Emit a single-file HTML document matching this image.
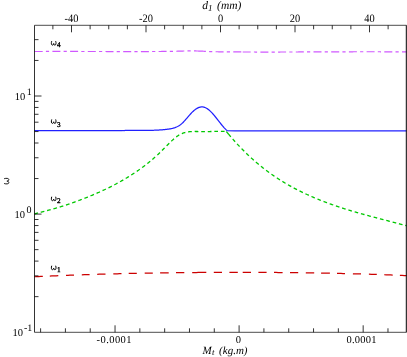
<!DOCTYPE html>
<html><head><meta charset="utf-8"><style>
html,body{margin:0;padding:0;background:#fff;width:407px;height:357px;overflow:hidden}
svg{display:block;-webkit-font-smoothing:antialiased;will-change:transform} text{text-rendering:geometricPrecision}
</style></head><body>
<svg width="407" height="357" viewBox="0 0 407 357">
<rect width="407" height="357" fill="#fff"/>
<polyline points="34.70,51.51 35.70,51.50 36.70,51.50 37.70,51.49 38.70,51.49 39.70,51.49 40.70,51.48 41.70,51.48 42.70,51.48 43.70,51.47 44.70,51.47 45.70,51.47 46.70,51.47 47.70,51.47 48.70,51.46 49.70,51.46 50.70,51.46 51.70,51.46 52.70,51.46 53.70,51.46 54.70,51.46 55.70,51.46 56.70,51.46 57.70,51.46 58.70,51.45 59.70,51.45 60.70,51.45 61.70,51.45 62.70,51.45 63.70,51.46 64.70,51.46 65.70,51.46 66.70,51.46 67.70,51.46 68.70,51.46 69.70,51.46 70.70,51.46 71.70,51.46 72.70,51.46 73.70,51.46 74.70,51.46 75.70,51.47 76.70,51.47 77.70,51.47 78.70,51.47 79.70,51.47 80.70,51.47 81.70,51.48 82.70,51.48 83.70,51.48 84.70,51.48 85.70,51.48 86.70,51.49 87.70,51.49 88.70,51.49 89.70,51.49 90.70,51.49 91.70,51.50 92.70,51.50 93.70,51.50 94.70,51.50 95.70,51.50 96.70,51.51 97.70,51.51 98.70,51.51 99.70,51.51 100.70,51.51 101.70,51.52 102.70,51.52 103.70,51.52 104.70,51.52 105.70,51.52 106.70,51.53 107.70,51.53 108.70,51.53 109.70,51.53 110.70,51.53 111.70,51.53 112.70,51.54 113.70,51.54 114.70,51.54 115.70,51.54 116.70,51.54 117.70,51.54 118.70,51.54 119.70,51.55 120.70,51.55 121.70,51.55 122.70,51.55 123.70,51.55 124.70,51.55 125.70,51.55 126.70,51.55 127.70,51.55 128.70,51.55 129.70,51.55 130.70,51.55 131.70,51.55 132.70,51.55 133.70,51.55 134.70,51.55 135.70,51.55 136.70,51.55 137.70,51.55 138.70,51.55 139.70,51.55 140.70,51.54 141.70,51.54 142.70,51.54 143.70,51.54 144.70,51.54 145.70,51.53 146.70,51.53 147.70,51.53 148.70,51.53 149.70,51.52 150.70,51.52 151.70,51.52 152.70,51.51 153.70,51.51 154.70,51.51 155.70,51.50 156.70,51.50 157.70,51.49 158.70,51.49 159.70,51.48 160.70,51.48 161.70,51.47 162.70,51.47 163.70,51.46 164.70,51.45 165.70,51.44 166.70,51.43 167.70,51.42 168.70,51.41 169.70,51.40 170.70,51.38 171.70,51.37 172.70,51.35 173.70,51.32 174.70,51.30 175.70,51.27 176.70,51.25 177.70,51.21 178.70,51.18 179.70,51.15 180.70,51.11 181.70,51.08 182.70,51.05 183.70,51.02 184.70,50.99 185.70,50.96 186.70,50.94 187.70,50.92 188.70,50.90 189.70,50.89 190.70,50.89 191.70,50.89 192.70,50.90 193.70,50.91 194.70,50.93 195.70,50.95 196.70,50.98 197.70,51.01 197.90,51.01" fill="none" stroke="#d058ff" stroke-width="1.2" stroke-dasharray="8 3.2 3.2 3.3"/>
<polyline points="197.90,51.01 198.70,51.04 199.70,51.08 200.70,51.12 201.70,51.17 202.70,51.21 203.70,51.26 204.70,51.31 205.70,51.36 206.70,51.41 207.70,51.46 208.70,51.50 209.70,51.55 210.70,51.58 211.70,51.62 212.70,51.65 213.70,51.68 214.70,51.70 215.70,51.73 216.70,51.74 217.70,51.76 218.70,51.78 219.70,51.79 220.70,51.80 221.70,51.81 222.70,51.82 223.70,51.83 224.70,51.84 225.70,51.85 226.70,51.86 227.70,51.87 228.70,51.88 229.70,51.89 230.70,51.90 231.70,51.91 232.70,51.92 233.70,51.92 234.70,51.93 235.70,51.94 236.70,51.94 237.70,51.95 238.70,51.96 239.70,51.96 240.70,51.97 241.70,51.97 242.70,51.98" fill="none" stroke="#d058ff" stroke-width="1.2" stroke-dasharray="8 3.2 3.2 3.3"/>
<polyline points="242.70,51.98 243.70,51.98 244.70,51.99 245.70,51.99 246.70,52.00 247.70,52.00 248.70,52.01 249.70,52.01 250.70,52.01 251.70,52.02 252.70,52.02 253.70,52.02 254.70,52.02 255.70,52.03 256.70,52.03 257.70,52.03 258.70,52.03 259.70,52.03 260.70,52.03 261.70,52.03 262.70,52.04 263.70,52.04 264.70,52.04 265.70,52.04 266.70,52.04 267.70,52.04 268.70,52.04 269.70,52.04 270.70,52.04 271.70,52.04 272.70,52.03 273.70,52.03 274.70,52.03 275.70,52.03 276.70,52.03 277.70,52.03 278.70,52.03 279.70,52.03 280.70,52.02 281.70,52.02 282.70,52.02 283.70,52.02 284.70,52.01 285.70,52.01 286.70,52.01 287.70,52.01 288.70,52.00 289.70,52.00 290.70,52.00 291.70,52.00 292.70,51.99 293.70,51.99 294.70,51.99 295.70,51.98 296.70,51.98 297.70,51.98 298.70,51.97 299.70,51.97 300.70,51.96 301.70,51.96 302.70,51.96 303.70,51.95 304.70,51.95 305.70,51.95 306.70,51.94 307.70,51.94 308.70,51.93 309.70,51.93 310.70,51.92 311.70,51.92 312.70,51.92 313.70,51.91 314.70,51.91 315.70,51.90 316.70,51.90 317.70,51.90 318.70,51.89 319.70,51.89 320.70,51.88 321.70,51.88 322.70,51.88 323.70,51.87 324.70,51.87 325.70,51.86 326.70,51.86 327.70,51.85 328.70,51.85 329.70,51.85 330.70,51.84 331.70,51.84 332.70,51.84 333.70,51.83 334.70,51.83 335.70,51.82 336.70,51.82 337.70,51.82 338.70,51.81 339.70,51.81 340.70,51.81 341.70,51.80 342.70,51.80 343.70,51.80 344.70,51.80 345.70,51.79 346.70,51.79 347.70,51.79 348.70,51.78 349.70,51.78 350.70,51.78 351.70,51.78 352.70,51.78 353.70,51.77 354.70,51.77 355.70,51.77 356.70,51.77 357.70,51.77 358.70,51.77 359.70,51.76 360.70,51.76 361.70,51.76 362.70,51.76 363.70,51.76 364.70,51.76 365.70,51.76 366.70,51.76 367.70,51.76 368.70,51.76 369.70,51.76 370.70,51.76 371.70,51.76 372.70,51.76 373.70,51.76 374.70,51.76 375.70,51.77 376.70,51.77 377.70,51.77 378.70,51.77 379.70,51.77 380.70,51.78 381.70,51.78 382.70,51.78 383.70,51.79 384.70,51.79 385.70,51.79 386.70,51.80 387.70,51.80 388.70,51.80 389.70,51.81 390.70,51.81 391.70,51.82 392.70,51.82 393.70,51.83 394.70,51.84 395.70,51.84 396.70,51.85 397.70,51.85 398.70,51.86 399.70,51.87 400.70,51.88 401.70,51.88 402.70,51.89 403.70,51.90 404.70,51.91 405.70,51.92 406.50,51.92" fill="none" stroke="#d058ff" stroke-width="1.2" stroke-dasharray="8 3.2 3.2 3.3"/>
<polyline points="34.50,213.89 35.00,213.76 35.50,213.63 36.00,213.50 36.50,213.37 37.00,213.24 37.50,213.12 38.00,212.99 38.50,212.86 39.00,212.73 39.50,212.60 40.00,212.47 40.50,212.34 41.00,212.21 41.50,212.08 42.00,211.95 42.50,211.82 43.00,211.69 43.50,211.56 44.00,211.43 44.50,211.29 45.00,211.16 45.50,211.03 46.00,210.90 46.50,210.76 47.00,210.63 47.50,210.50 48.00,210.36 48.50,210.23 49.00,210.09 49.50,209.96 50.00,209.82 50.50,209.68 51.00,209.55 51.50,209.41 52.00,209.27 52.50,209.13 53.00,208.99 53.50,208.85 54.00,208.71 54.50,208.56 55.00,208.42 55.50,208.28 56.00,208.13 56.50,207.99 57.00,207.84 57.50,207.69 58.00,207.55 58.50,207.40 59.00,207.25 59.50,207.10 60.00,206.94 60.50,206.79 61.00,206.64 61.50,206.48 62.00,206.33 62.50,206.17 63.00,206.01 63.50,205.85 64.00,205.69 64.50,205.53 65.00,205.37 65.50,205.21 66.00,205.04 66.50,204.88 67.00,204.71 67.50,204.55 68.00,204.38 68.50,204.21 69.00,204.04 69.50,203.87 70.00,203.70 70.50,203.53 71.00,203.35 71.50,203.18 72.00,203.00 72.50,202.83 73.00,202.65 73.50,202.47 74.00,202.29 74.50,202.11 75.00,201.93 75.50,201.75 76.00,201.57 76.50,201.38 77.00,201.20 77.50,201.01 78.00,200.83 78.50,200.64 79.00,200.45 79.50,200.26 80.00,200.07 80.50,199.88 81.00,199.69 81.50,199.50 82.00,199.31 82.50,199.11 83.00,198.92 83.50,198.73 84.00,198.53 84.50,198.33 85.00,198.14 85.50,197.94 86.00,197.74 86.50,197.54 87.00,197.34 87.50,197.14 88.00,196.94 88.50,196.73 89.00,196.53 89.50,196.32 90.00,196.12 90.50,195.91 91.00,195.71 91.50,195.50 92.00,195.29 92.50,195.08 93.00,194.87 93.50,194.66 94.00,194.45 94.50,194.23 95.00,194.02 95.50,193.80 96.00,193.59 96.50,193.37 97.00,193.15 97.50,192.93 98.00,192.71 98.50,192.49 99.00,192.27 99.50,192.04 100.00,191.82 100.50,191.59 101.00,191.37 101.50,191.14 102.00,190.91 102.50,190.68 103.00,190.45 103.50,190.21 104.00,189.98 104.50,189.74 105.00,189.51 105.50,189.27 106.00,189.03 106.50,188.79 107.00,188.55 107.50,188.31 108.00,188.06 108.50,187.82 109.00,187.57 109.50,187.32 110.00,187.07 110.50,186.82 111.00,186.57 111.50,186.32 112.00,186.06 112.50,185.81 113.00,185.55 113.50,185.29 114.00,185.03 114.50,184.76 115.00,184.50 115.50,184.24 116.00,183.97 116.50,183.70 117.00,183.43 117.50,183.16 118.00,182.89 118.50,182.61 119.00,182.34 119.50,182.06 120.00,181.78 120.50,181.50 121.00,181.21 121.50,180.93 122.00,180.64 122.50,180.36 123.00,180.07 123.50,179.78 124.00,179.48 124.50,179.19 125.00,178.89 125.50,178.59 126.00,178.29 126.50,177.99 127.00,177.69 127.50,177.38 128.00,177.08 128.50,176.77 129.00,176.46 129.50,176.14 130.00,175.83 130.50,175.51 131.00,175.19 131.50,174.87 132.00,174.55 132.50,174.23 133.00,173.90 133.50,173.57 134.00,173.24 134.50,172.91 135.00,172.58 135.50,172.24 136.00,171.90 136.50,171.56 137.00,171.22 137.50,170.87 138.00,170.52 138.50,170.18 139.00,169.82 139.50,169.47 140.00,169.11 140.50,168.75 141.00,168.39 141.50,168.03 142.00,167.66 142.50,167.29 143.00,166.92 143.50,166.54 144.00,166.17 144.50,165.79 145.00,165.40 145.50,165.02 146.00,164.63 146.50,164.24 147.00,163.85 147.50,163.45 148.00,163.05 148.50,162.65 149.00,162.24 149.50,161.83 150.00,161.42 150.50,161.01 151.00,160.59 151.50,160.17 152.00,159.74 152.50,159.32 153.00,158.89 153.50,158.45 154.00,158.02 154.50,157.58 155.00,157.13 155.50,156.68 156.00,156.23 156.50,155.78 157.00,155.32 157.50,154.86 158.00,154.40 158.50,153.93 159.00,153.46 159.50,152.98 160.00,152.50 160.50,152.02 161.00,151.54 161.50,151.05 162.00,150.56 162.50,150.07 163.00,149.57 163.50,149.08 164.00,148.58 164.50,148.08 165.00,147.58 165.50,147.08 166.00,146.58 166.50,146.08 167.00,145.57 167.50,145.07 168.00,144.56 168.50,144.06 169.00,143.56 169.50,143.06 170.00,142.56 170.50,142.06 171.00,141.57 171.50,141.09 172.00,140.61 172.50,140.14 173.00,139.67 173.50,139.22 174.00,138.77 174.50,138.34 175.00,137.92 175.50,137.51 176.00,137.11 176.50,136.73 177.00,136.36 177.50,136.01 178.00,135.67 178.50,135.35 179.00,135.05 179.50,134.76 180.00,134.49 180.50,134.24 181.00,133.99 181.50,133.76 182.00,133.55 182.50,133.35 183.00,133.16 183.50,132.98 184.00,132.82 184.50,132.67 185.00,132.53 185.50,132.40 186.00,132.28 186.50,132.17 187.00,132.07 187.50,131.98 188.00,131.89 188.50,131.82 189.00,131.76 189.50,131.70 190.00,131.65 190.50,131.61 191.00,131.57 191.50,131.54 192.00,131.52 192.50,131.50 193.00,131.48 193.50,131.48 194.00,131.47 194.50,131.47 195.00,131.47 195.50,131.48 196.00,131.48 196.50,131.49 197.00,131.51 197.50,131.52 198.00,131.53 198.50,131.55 199.00,131.57 199.50,131.58 200.00,131.60 200.50,131.61 201.00,131.62 201.50,131.63 202.00,131.64 202.50,131.65 203.00,131.65 203.50,131.66 204.00,131.66 204.50,131.65 205.00,131.65 205.50,131.64 206.00,131.64 206.50,131.63 207.00,131.62 207.50,131.61 208.00,131.59 208.50,131.58 209.00,131.57 209.50,131.55 210.00,131.53 210.50,131.52 211.00,131.50 211.50,131.48 212.00,131.47 212.50,131.45 213.00,131.43 213.50,131.42 214.00,131.40 214.50,131.38 215.00,131.37 215.50,131.35 216.00,131.34 216.50,131.33 217.00,131.32 217.50,131.31 218.00,131.30 218.50,131.29 219.00,131.28 219.50,131.28 220.00,131.28 220.50,131.28 221.00,131.28 221.50,131.28 222.00,131.29 222.50,131.30 223.00,131.31 223.50,131.32 224.00,131.34 224.50,131.36 225.00,131.38 225.50,131.40 226.00,131.43 226.50,131.47" fill="none" stroke="#00c800" stroke-width="1.3" stroke-dasharray="3.7 2.855" stroke-dashoffset="0.08"/>
<polyline points="226.50,131.69 227.00,132.30 227.50,132.90 228.00,133.50 228.50,134.10 229.00,134.70 229.50,135.29 230.00,135.88 230.50,136.47 231.00,137.05 231.50,137.63 232.00,138.20 232.50,138.78 233.00,139.34 233.50,139.91 234.00,140.47 234.50,141.03 235.00,141.59 235.50,142.14 236.00,142.69 236.50,143.23 237.00,143.78 237.50,144.32 238.00,144.85 238.50,145.39 239.00,145.91 239.50,146.44 240.00,146.97 240.50,147.49 241.00,148.00 241.50,148.52 242.00,149.03 242.50,149.54 243.00,150.04 243.50,150.54 244.00,151.04 244.50,151.54 245.00,152.03 245.50,152.52 246.00,153.01 246.50,153.49 247.00,153.97 247.50,154.45 248.00,154.93 248.50,155.40 249.00,155.87 249.50,156.34 250.00,156.80 250.50,157.26 251.00,157.72 251.50,158.17 252.00,158.63 252.50,159.08 253.00,159.52 253.50,159.97 254.00,160.41 254.50,160.85 255.00,161.28 255.50,161.72 256.00,162.15 256.50,162.57 257.00,163.00 257.50,163.42 258.00,163.84 258.50,164.26 259.00,164.67 259.50,165.09 260.00,165.50 260.50,165.90 261.00,166.31 261.50,166.71 262.00,167.11 262.50,167.51 263.00,167.90 263.50,168.29 264.00,168.68 264.50,169.07 265.00,169.45 265.50,169.84 266.00,170.21 266.50,170.59 267.00,170.97 267.50,171.34 268.00,171.71 268.50,172.08 269.00,172.44 269.50,172.81 270.00,173.17 270.50,173.53 271.00,173.88 271.50,174.24 272.00,174.59 272.50,174.94 273.00,175.29 273.50,175.63 274.00,175.97 274.50,176.32 275.00,176.65 275.50,176.99 276.00,177.33 276.50,177.66 277.00,177.99 277.50,178.32 278.00,178.64 278.50,178.97 279.00,179.29 279.50,179.61 280.00,179.93 280.50,180.24 281.00,180.56 281.50,180.87 282.00,181.18 282.50,181.49 283.00,181.79 283.50,182.10 284.00,182.40 284.50,182.70 285.00,183.00 285.50,183.30 286.00,183.59 286.50,183.88 287.00,184.17 287.50,184.46 288.00,184.75 288.50,185.04 289.00,185.32 289.50,185.60 290.00,185.88 290.50,186.16 291.00,186.44 291.50,186.72 292.00,186.99 292.50,187.26 293.00,187.53 293.50,187.80 294.00,188.07 294.50,188.33 295.00,188.60 295.50,188.86 296.00,189.12 296.50,189.38 297.00,189.64 297.50,189.90 298.00,190.15 298.50,190.40 299.00,190.66 299.50,190.91 300.00,191.15 300.50,191.40 301.00,191.65 301.50,191.89 302.00,192.14 302.50,192.38 303.00,192.62 303.50,192.86 304.00,193.09 304.50,193.33 305.00,193.57 305.50,193.80 306.00,194.03 306.50,194.26 307.00,194.49 307.50,194.72 308.00,194.95 308.50,195.18 309.00,195.40 309.50,195.63 310.00,195.85 310.50,196.07 311.00,196.29 311.50,196.51 312.00,196.73 312.50,196.94 313.00,197.16 313.50,197.37 314.00,197.59 314.50,197.80 315.00,198.01 315.50,198.22 316.00,198.43 316.50,198.64 317.00,198.84 317.50,199.05 318.00,199.25 318.50,199.46 319.00,199.66 319.50,199.86 320.00,200.06 320.50,200.26 321.00,200.46 321.50,200.66 322.00,200.85 322.50,201.05 323.00,201.24 323.50,201.44 324.00,201.63 324.50,201.82 325.00,202.01 325.50,202.20 326.00,202.39 326.50,202.57 327.00,202.76 327.50,202.95 328.00,203.13 328.50,203.31 329.00,203.50 329.50,203.68 330.00,203.86 330.50,204.04 331.00,204.22 331.50,204.40 332.00,204.58 332.50,204.75 333.00,204.93 333.50,205.10 334.00,205.28 334.50,205.45 335.00,205.62 335.50,205.80 336.00,205.97 336.50,206.14 337.00,206.31 337.50,206.47 338.00,206.64 338.50,206.81 339.00,206.98 339.50,207.14 340.00,207.31 340.50,207.47 341.00,207.63 341.50,207.80 342.00,207.96 342.50,208.12 343.00,208.28 343.50,208.44 344.00,208.60 344.50,208.76 345.00,208.92 345.50,209.07 346.00,209.23 346.50,209.39 347.00,209.54 347.50,209.70 348.00,209.85 348.50,210.00 349.00,210.16 349.50,210.31 350.00,210.46 350.50,210.61 351.00,210.76 351.50,210.91 352.00,211.06 352.50,211.21 353.00,211.36 353.50,211.51 354.00,211.65 354.50,211.80 355.00,211.95 355.50,212.09 356.00,212.24 356.50,212.38 357.00,212.53 357.50,212.67 358.00,212.81 358.50,212.96 359.00,213.10 359.50,213.24 360.00,213.38 360.50,213.53 361.00,213.67 361.50,213.81 362.00,213.95 362.50,214.09 363.00,214.23 363.50,214.36 364.00,214.50 364.50,214.64 365.00,214.78 365.50,214.92 366.00,215.05 366.50,215.19 367.00,215.33 367.50,215.46 368.00,215.60 368.50,215.74 369.00,215.87 369.50,216.01 370.00,216.14 370.50,216.27 371.00,216.41 371.50,216.54 372.00,216.68 372.50,216.81 373.00,216.94 373.50,217.08 374.00,217.21 374.50,217.34 375.00,217.47 375.50,217.61 376.00,217.74 376.50,217.87 377.00,218.00 377.50,218.13 378.00,218.27 378.50,218.40 379.00,218.53 379.50,218.66 380.00,218.79 380.50,218.92 381.00,219.05 381.50,219.18 382.00,219.31 382.50,219.44 383.00,219.57 383.50,219.70 384.00,219.83 384.50,219.96 385.00,220.09 385.50,220.22 386.00,220.35 386.50,220.48 387.00,220.61 387.50,220.74 388.00,220.87 388.50,221.00 389.00,221.13 389.50,221.26 390.00,221.39 390.50,221.52 391.00,221.65 391.50,221.78 392.00,221.91 392.50,222.04 393.00,222.18 393.50,222.31 394.00,222.44 394.50,222.57 395.00,222.70 395.50,222.83 396.00,222.96 396.50,223.09 397.00,223.22 397.50,223.35 398.00,223.49 398.50,223.62 399.00,223.75 399.50,223.88 400.00,224.01 400.50,224.15 401.00,224.28 401.50,224.41 402.00,224.55 402.50,224.68 403.00,224.81 403.50,224.95 404.00,225.08 404.50,225.22 405.00,225.35 405.50,225.49 406.00,225.62 406.50,225.76" fill="none" stroke="#00c800" stroke-width="1.3" stroke-dasharray="3.7 2.855" stroke-dashoffset="3.525"/>
<polyline points="226.50,131.69 227.00,132.30 227.50,132.90 228.00,133.50 228.50,134.10" fill="none" stroke="#00c800" stroke-width="1.3"/>
<polyline points="34.50,130.70 35.00,130.70 35.50,130.70 36.00,130.70 36.50,130.70 37.00,130.70 37.50,130.70 38.00,130.70 38.50,130.70 39.00,130.70 39.50,130.69 40.00,130.69 40.50,130.69 41.00,130.69 41.50,130.69 42.00,130.69 42.50,130.69 43.00,130.69 43.50,130.69 44.00,130.69 44.50,130.69 45.00,130.69 45.50,130.69 46.00,130.69 46.50,130.69 47.00,130.69 47.50,130.69 48.00,130.69 48.50,130.69 49.00,130.68 49.50,130.68 50.00,130.68 50.50,130.68 51.00,130.68 51.50,130.68 52.00,130.68 52.50,130.68 53.00,130.68 53.50,130.68 54.00,130.68 54.50,130.68 55.00,130.68 55.50,130.68 56.00,130.68 56.50,130.68 57.00,130.68 57.50,130.68 58.00,130.68 58.50,130.67 59.00,130.67 59.50,130.67 60.00,130.67 60.50,130.67 61.00,130.67 61.50,130.67 62.00,130.67 62.50,130.67 63.00,130.67 63.50,130.67 64.00,130.67 64.50,130.67 65.00,130.67 65.50,130.67 66.00,130.67 66.50,130.67 67.00,130.67 67.50,130.67 68.00,130.66 68.50,130.66 69.00,130.66 69.50,130.66 70.00,130.66 70.50,130.66 71.00,130.66 71.50,130.66 72.00,130.66 72.50,130.66 73.00,130.66 73.50,130.66 74.00,130.66 74.50,130.66 75.00,130.66 75.50,130.66 76.00,130.66 76.50,130.66 77.00,130.65 77.50,130.65 78.00,130.65 78.50,130.65 79.00,130.65 79.50,130.65 80.00,130.65 80.50,130.65 81.00,130.65 81.50,130.65 82.00,130.65 82.50,130.65 83.00,130.65 83.50,130.65 84.00,130.65 84.50,130.65 85.00,130.65 85.50,130.65 86.00,130.65 86.50,130.64 87.00,130.64 87.50,130.64 88.00,130.64 88.50,130.64 89.00,130.64 89.50,130.64 90.00,130.64 90.50,130.64 91.00,130.64 91.50,130.64 92.00,130.64 92.50,130.64 93.00,130.64 93.50,130.64 94.00,130.64 94.50,130.64 95.00,130.64 95.50,130.64 96.00,130.63 96.50,130.63 97.00,130.63 97.50,130.63 98.00,130.63 98.50,130.63 99.00,130.63 99.50,130.63 100.00,130.63 100.50,130.63 101.00,130.63 101.50,130.63 102.00,130.63 102.50,130.63 103.00,130.63 103.50,130.63 104.00,130.63 104.50,130.63 105.00,130.63 105.50,130.62 106.00,130.62 106.50,130.62 107.00,130.62 107.50,130.62 108.00,130.62 108.50,130.62 109.00,130.62 109.50,130.62 110.00,130.62 110.50,130.56 111.00,130.56 111.50,130.56 112.00,130.56 112.50,130.55 113.00,130.55 113.50,130.55 114.00,130.55 114.50,130.54 115.00,130.54 115.50,130.54 116.00,130.54 116.50,130.53 117.00,130.53 117.50,130.53 118.00,130.53 118.50,130.52 119.00,130.52 119.50,130.52 120.00,130.52 120.50,130.52 121.00,130.51 121.50,130.51 122.00,130.51 122.50,130.51 123.00,130.50 123.50,130.50 124.00,130.50 124.50,130.50 125.00,130.49 125.50,130.49 126.00,130.49 126.50,130.49 127.00,130.49 127.50,130.48 128.00,130.48 128.50,130.48 129.00,130.48 129.50,130.47 130.00,130.47 130.50,130.47 131.00,130.47 131.50,130.47 132.00,130.46 132.50,130.46 133.00,130.46 133.50,130.46 134.00,130.46 134.50,130.45 135.00,130.45 135.50,130.45 136.00,130.45 136.50,130.45 137.00,130.45 137.50,130.44 138.00,130.44 138.50,130.44 139.00,130.44 139.50,130.44 140.00,130.44 140.50,130.43 141.00,130.43 141.50,130.43 142.00,130.43 142.50,130.43 143.00,130.43 143.50,130.42 144.00,130.42 144.50,130.42 145.00,130.42 145.50,130.41 146.00,130.41 146.50,130.40 147.00,130.40 147.50,130.39 148.00,130.39 148.50,130.38 149.00,130.37 149.50,130.36 150.00,130.36 150.50,130.35 151.00,130.34 151.50,130.32 152.00,130.31 152.50,130.30 153.00,130.28 153.50,130.27 154.00,130.25 154.50,130.24 155.00,130.22 155.50,130.20 156.00,130.17 156.50,130.15 157.00,130.13 157.50,130.10 158.00,130.08 158.50,130.05 159.00,130.02 159.50,129.99 160.00,129.95 160.50,129.92 161.00,129.88 161.50,129.85 162.00,129.81 162.50,129.76 163.00,129.72 163.50,129.68 164.00,129.63 164.50,129.58 165.00,129.53 165.50,129.47 166.00,129.42 166.50,129.36 167.00,129.30 167.50,129.24 168.00,129.18 168.50,129.11 169.00,129.04 169.50,128.96 170.00,128.88 170.50,128.80 171.00,128.71 171.50,128.61 172.00,128.50 172.50,128.38 173.00,128.26 173.50,128.12 174.00,127.97 174.50,127.81 175.00,127.64 175.50,127.45 176.00,127.25 176.50,127.03 177.00,126.80 177.50,126.55 178.00,126.28 178.50,125.99 179.00,125.69 179.50,125.36 180.00,125.01 180.50,124.64 181.00,124.25 181.50,123.84 182.00,123.40 182.50,122.93 183.00,122.45 183.50,121.94 184.00,121.42 184.50,120.88 185.00,120.33 185.50,119.77 186.00,119.20 186.50,118.62 187.00,118.04 187.50,117.46 188.00,116.87 188.50,116.29 189.00,115.71 189.50,115.13 190.00,114.56 190.50,114.01 191.00,113.46 191.50,112.93 192.00,112.42 192.50,111.92 193.00,111.44 193.50,110.98 194.00,110.55 194.50,110.13 195.00,109.74 195.50,109.36 196.00,109.01 196.50,108.69 197.00,108.39 197.50,108.12 198.00,107.87 198.50,107.65 199.00,107.45 199.50,107.29 200.00,107.15 200.50,107.05 201.00,106.97 201.50,106.93 202.00,106.92 202.50,106.94 203.00,106.99 203.50,107.08 204.00,107.20 204.50,107.35 205.00,107.53 205.50,107.75 206.00,107.99 206.50,108.26 207.00,108.55 207.50,108.88 208.00,109.23 208.50,109.61 209.00,110.01 209.50,110.43 210.00,110.88 210.50,111.35 211.00,111.84 211.50,112.35 212.00,112.88 212.50,113.43 213.00,113.99 213.50,114.56 214.00,115.15 214.50,115.76 215.00,116.37 215.50,116.99 216.00,117.61 216.50,118.25 217.00,118.89 217.50,119.53 218.00,120.17 218.50,120.82 219.00,121.46 219.50,122.10 220.00,122.74 220.50,123.37 221.00,124.00 221.50,124.62 222.00,125.23 222.50,125.84 223.00,126.43 223.50,127.00 224.00,127.57 224.50,128.11 225.00,128.64 225.50,129.15 226.00,129.65 226.50,130.12 227.00,130.57 235.00,130.80 260.00,130.90 406.50,130.95" fill="none" stroke="#2020ff" stroke-width="1.25" stroke-linejoin="round"/>
<polyline points="34.50,276.75 36.58,276.65 38.65,276.55 40.72,276.45 42.80,276.35" fill="none" stroke="#cc0000" stroke-width="1.25"/>
<polyline points="49.80,276.04 51.92,275.94 54.05,275.85 56.17,275.76 58.30,275.67" fill="none" stroke="#cc0000" stroke-width="1.25"/>
<polyline points="66.00,275.37 68.00,275.29 70.00,275.21 72.00,275.14 74.00,275.07" fill="none" stroke="#cc0000" stroke-width="1.25"/>
<polyline points="81.80,274.79 84.40,274.70 87.00,274.62 89.60,274.54" fill="none" stroke="#cc0000" stroke-width="1.25"/>
<polyline points="97.20,274.30 99.28,274.24 101.35,274.18 103.42,274.12 105.50,274.07" fill="none" stroke="#cc0000" stroke-width="1.25"/>
<polyline points="113.30,273.86 115.35,273.81 117.40,273.76 119.45,273.71 121.50,273.66" fill="none" stroke="#cc0000" stroke-width="1.25"/>
<polyline points="128.70,273.49 130.72,273.45 132.75,273.41 134.78,273.37 136.80,273.32" fill="none" stroke="#cc0000" stroke-width="1.25"/>
<polyline points="144.70,273.17 146.72,273.14 148.75,273.10 150.78,273.07 152.80,273.03" fill="none" stroke="#cc0000" stroke-width="1.25"/>
<polyline points="160.10,272.92 162.25,272.89 164.40,272.85 166.55,272.82 168.70,272.80" fill="none" stroke="#cc0000" stroke-width="1.25"/>
<polyline points="176.00,272.70 178.07,272.68 180.15,272.66 182.23,272.63 184.30,272.61" fill="none" stroke="#cc0000" stroke-width="1.25"/>
<polyline points="192.20,272.54 194.21,272.52 196.23,272.51 198.24,272.49 200.26,272.48 202.27,272.46 204.29,272.45 206.30,272.44" fill="none" stroke="#cc0000" stroke-width="1.25"/>
<polyline points="213.80,272.40 215.85,272.39 217.90,272.38 219.95,272.37 222.00,272.37" fill="none" stroke="#cc0000" stroke-width="1.25"/>
<polyline points="229.40,272.35 231.50,272.35 233.60,272.34 235.70,272.34 237.80,272.34" fill="none" stroke="#cc0000" stroke-width="1.25"/>
<polyline points="242.70,272.35 244.77,272.35 246.85,272.35 248.93,272.36 251.00,272.36" fill="none" stroke="#cc0000" stroke-width="1.25"/>
<polyline points="258.40,272.38 260.45,272.39 262.50,272.40 264.55,272.41 266.60,272.42" fill="none" stroke="#cc0000" stroke-width="1.25"/>
<polyline points="274.00,272.47 276.15,272.49 278.30,272.51 280.45,272.52 282.60,272.54" fill="none" stroke="#cc0000" stroke-width="1.25"/>
<polyline points="290.00,272.62 292.05,272.64 294.10,272.66 296.15,272.69 298.20,272.71" fill="none" stroke="#cc0000" stroke-width="1.25"/>
<polyline points="305.80,272.81 307.90,272.84 310.00,272.87 312.10,272.91 314.20,272.94" fill="none" stroke="#cc0000" stroke-width="1.25"/>
<polyline points="321.10,273.06 323.30,273.10 325.50,273.14 327.70,273.18 329.90,273.23" fill="none" stroke="#cc0000" stroke-width="1.25"/>
<polyline points="337.00,273.38 339.00,273.42 341.00,273.47 343.00,273.51 345.00,273.56" fill="none" stroke="#cc0000" stroke-width="1.25"/>
<polyline points="352.90,273.76 354.92,273.82 356.95,273.87 358.98,273.93 361.00,273.99" fill="none" stroke="#cc0000" stroke-width="1.25"/>
<polyline points="368.90,274.23 371.53,274.31 374.17,274.40 376.80,274.49" fill="none" stroke="#cc0000" stroke-width="1.25"/>
<polyline points="384.20,274.75 386.32,274.83 388.45,274.91 390.57,274.99 392.70,275.07" fill="none" stroke="#cc0000" stroke-width="1.25"/>
<polyline points="399.90,275.37 402.10,275.46 404.30,275.56 406.50,275.66" fill="none" stroke="#cc0000" stroke-width="1.25"/>
<g stroke="#000" fill="none">
<line x1="34.5" y1="25.3" x2="406.5" y2="25.3" stroke-width="0.7"/>
<line x1="34.5" y1="332.3" x2="406.5" y2="332.3" stroke-width="0.7"/>
<line x1="34.5" y1="25.3" x2="34.5" y2="332.3" stroke-width="0.8"/>
<line x1="406.3" y1="25.3" x2="406.3" y2="332.3" stroke-width="1.0"/>
<line x1="52.88" y1="25.3" x2="52.88" y2="29.3" stroke-width="0.8"/>
<line x1="71.50" y1="25.3" x2="71.50" y2="32.3" stroke-width="0.8"/>
<line x1="90.12" y1="25.3" x2="90.12" y2="29.3" stroke-width="0.8"/>
<line x1="108.75" y1="25.3" x2="108.75" y2="29.3" stroke-width="0.8"/>
<line x1="127.38" y1="25.3" x2="127.38" y2="29.3" stroke-width="0.8"/>
<line x1="146.00" y1="25.3" x2="146.00" y2="32.3" stroke-width="0.8"/>
<line x1="164.62" y1="25.3" x2="164.62" y2="29.3" stroke-width="0.8"/>
<line x1="183.25" y1="25.3" x2="183.25" y2="29.3" stroke-width="0.8"/>
<line x1="201.88" y1="25.3" x2="201.88" y2="29.3" stroke-width="0.8"/>
<line x1="220.50" y1="25.3" x2="220.50" y2="32.3" stroke-width="0.8"/>
<line x1="239.12" y1="25.3" x2="239.12" y2="29.3" stroke-width="0.8"/>
<line x1="257.75" y1="25.3" x2="257.75" y2="29.3" stroke-width="0.8"/>
<line x1="276.38" y1="25.3" x2="276.38" y2="29.3" stroke-width="0.8"/>
<line x1="295.00" y1="25.3" x2="295.00" y2="32.3" stroke-width="0.8"/>
<line x1="313.62" y1="25.3" x2="313.62" y2="29.3" stroke-width="0.8"/>
<line x1="332.25" y1="25.3" x2="332.25" y2="29.3" stroke-width="0.8"/>
<line x1="350.88" y1="25.3" x2="350.88" y2="29.3" stroke-width="0.8"/>
<line x1="369.50" y1="25.3" x2="369.50" y2="32.3" stroke-width="0.8"/>
<line x1="388.12" y1="25.3" x2="388.12" y2="29.3" stroke-width="0.8"/>
<line x1="40.60" y1="332.3" x2="40.60" y2="328.3" stroke-width="0.8"/>
<line x1="65.42" y1="332.3" x2="65.42" y2="328.3" stroke-width="0.8"/>
<line x1="90.23" y1="332.3" x2="90.23" y2="328.3" stroke-width="0.8"/>
<line x1="115.04" y1="332.3" x2="115.04" y2="325.3" stroke-width="0.8"/>
<line x1="139.85" y1="332.3" x2="139.85" y2="328.3" stroke-width="0.8"/>
<line x1="164.66" y1="332.3" x2="164.66" y2="328.3" stroke-width="0.8"/>
<line x1="189.48" y1="332.3" x2="189.48" y2="328.3" stroke-width="0.8"/>
<line x1="214.29" y1="332.3" x2="214.29" y2="328.3" stroke-width="0.8"/>
<line x1="239.10" y1="332.3" x2="239.10" y2="325.3" stroke-width="0.8"/>
<line x1="263.91" y1="332.3" x2="263.91" y2="328.3" stroke-width="0.8"/>
<line x1="288.72" y1="332.3" x2="288.72" y2="328.3" stroke-width="0.8"/>
<line x1="313.54" y1="332.3" x2="313.54" y2="328.3" stroke-width="0.8"/>
<line x1="338.35" y1="332.3" x2="338.35" y2="328.3" stroke-width="0.8"/>
<line x1="363.16" y1="332.3" x2="363.16" y2="325.3" stroke-width="0.8"/>
<line x1="387.97" y1="332.3" x2="387.97" y2="328.3" stroke-width="0.8"/>
<line x1="34.5" y1="296.65" x2="38.5" y2="296.65" stroke-width="0.8"/>
<line x1="34.5" y1="275.85" x2="38.5" y2="275.85" stroke-width="0.8"/>
<line x1="34.5" y1="261.10" x2="38.5" y2="261.10" stroke-width="0.8"/>
<line x1="34.5" y1="249.65" x2="38.5" y2="249.65" stroke-width="0.8"/>
<line x1="34.5" y1="240.30" x2="38.5" y2="240.30" stroke-width="0.8"/>
<line x1="34.5" y1="232.39" x2="38.5" y2="232.39" stroke-width="0.8"/>
<line x1="34.5" y1="225.55" x2="38.5" y2="225.55" stroke-width="0.8"/>
<line x1="34.5" y1="219.50" x2="38.5" y2="219.50" stroke-width="0.8"/>
<line x1="34.5" y1="214.10" x2="41.5" y2="214.10" stroke-width="0.8"/>
<line x1="34.5" y1="178.55" x2="38.5" y2="178.55" stroke-width="0.8"/>
<line x1="34.5" y1="157.75" x2="38.5" y2="157.75" stroke-width="0.8"/>
<line x1="34.5" y1="143.00" x2="38.5" y2="143.00" stroke-width="0.8"/>
<line x1="34.5" y1="131.55" x2="38.5" y2="131.55" stroke-width="0.8"/>
<line x1="34.5" y1="122.20" x2="38.5" y2="122.20" stroke-width="0.8"/>
<line x1="34.5" y1="114.29" x2="38.5" y2="114.29" stroke-width="0.8"/>
<line x1="34.5" y1="107.45" x2="38.5" y2="107.45" stroke-width="0.8"/>
<line x1="34.5" y1="101.40" x2="38.5" y2="101.40" stroke-width="0.8"/>
<line x1="34.5" y1="96.00" x2="41.5" y2="96.00" stroke-width="0.8"/>
<line x1="34.5" y1="60.45" x2="38.5" y2="60.45" stroke-width="0.8"/>
<line x1="34.5" y1="39.65" x2="38.5" y2="39.65" stroke-width="0.8"/>
</g>
<text font-family="Liberation Serif" font-size="11.3" text-anchor="middle" transform="translate(71.50,21.50) scale(0.92,1.0)">-40</text>
<text font-family="Liberation Serif" font-size="11.3" text-anchor="middle" transform="translate(146.00,21.50) scale(0.92,1.0)">-20</text>
<text font-family="Liberation Serif" font-size="11.3" text-anchor="middle" transform="translate(220.50,21.50) scale(0.92,1.0)">0</text>
<text font-family="Liberation Serif" font-size="11.3" text-anchor="middle" transform="translate(295.00,21.50) scale(0.92,1.0)">20</text>
<text font-family="Liberation Serif" font-size="11.3" text-anchor="middle" transform="translate(369.50,21.50) scale(0.92,1.0)">40</text>
<text font-family="Liberation Serif" font-size="10.5" letter-spacing="0.42" transform="translate(96.60,343.20)">-0.0001</text>
<text font-family="Liberation Serif" font-size="10.5" transform="translate(235.80,343.20)">0</text>
<text font-family="Liberation Serif" font-size="10.5" letter-spacing="0.2" transform="translate(346.50,343.20)">0.0001</text>
<text font-family="Liberation Serif" font-size="10.5" transform="translate(14.70,100.00)">10</text>
<text font-family="Liberation Serif" font-size="10" transform="translate(26.80,94.80)">1</text>
<text font-family="Liberation Serif" font-size="10.5" transform="translate(14.40,218.00)">10</text>
<text font-family="Liberation Serif" font-size="10" transform="translate(26.50,212.80)">0</text>
<text font-family="Liberation Serif" font-size="10.5" transform="translate(12.40,336.00)">10</text>
<text font-family="Liberation Serif" font-size="10" transform="translate(24.00,330.80)">-1</text>
<text font-family="Liberation Serif" font-size="11.5" font-style="italic" transform="translate(202.30,8.90)">d</text>
<text font-family="Liberation Serif" font-size="9" font-style="italic" transform="translate(207.90,10.70)">1</text>
<text font-family="Liberation Serif" font-size="11.5" font-style="italic" transform="translate(217.10,8.90)">(mm)</text>
<text font-family="Liberation Serif" font-size="11" font-style="italic" transform="translate(202.50,353.60)">M</text>
<text font-family="Liberation Serif" font-size="9" font-style="italic" transform="translate(211.90,355.40)">t</text>
<text font-family="Liberation Serif" font-size="11" font-style="italic" transform="translate(219.10,353.60)">(kg.m)</text>
<path d="M0.8,0.6 C0.3,2.0 0.5,4.2 1.6,4.2 C2.4,4.2 2.9,3.6 2.9,2.6 C2.9,3.6 3.4,4.2 4.2,4.2 C5.3,4.2 5.5,2.0 5.0,0.6" transform="translate(9.30,184.60) rotate(-90) scale(1.2) translate(0,-4.6)" fill="none" stroke="#000" stroke-width="0.750" stroke-linecap="round"/>
<path d="M0.8,0.6 C0.3,2.0 0.5,4.2 1.6,4.2 C2.4,4.2 2.9,3.6 2.9,2.6 C2.9,3.6 3.4,4.2 4.2,4.2 C5.3,4.2 5.5,2.0 5.0,0.6" transform="translate(50.80,45.50) scale(1.0) translate(0,-4.6)" fill="none" stroke="#000" stroke-width="1.000" stroke-linecap="round"/>
<text font-family="Liberation Serif" font-size="7.2" stroke="#000" stroke-width="0.35" transform="translate(57.10,47.30)">4</text>
<path d="M0.8,0.6 C0.3,2.0 0.5,4.2 1.6,4.2 C2.4,4.2 2.9,3.6 2.9,2.6 C2.9,3.6 3.4,4.2 4.2,4.2 C5.3,4.2 5.5,2.0 5.0,0.6" transform="translate(50.80,123.80) scale(1.0) translate(0,-4.6)" fill="none" stroke="#000" stroke-width="1.000" stroke-linecap="round"/>
<text font-family="Liberation Serif" font-size="7.2" stroke="#000" stroke-width="0.35" transform="translate(57.10,126.50)">3</text>
<path d="M0.8,0.6 C0.3,2.0 0.5,4.2 1.6,4.2 C2.4,4.2 2.9,3.6 2.9,2.6 C2.9,3.6 3.4,4.2 4.2,4.2 C5.3,4.2 5.5,2.0 5.0,0.6" transform="translate(50.80,201.10) scale(1.0) translate(0,-4.6)" fill="none" stroke="#000" stroke-width="1.000" stroke-linecap="round"/>
<text font-family="Liberation Serif" font-size="7.2" stroke="#000" stroke-width="0.35" transform="translate(57.10,202.90)">2</text>
<path d="M0.8,0.6 C0.3,2.0 0.5,4.2 1.6,4.2 C2.4,4.2 2.9,3.6 2.9,2.6 C2.9,3.6 3.4,4.2 4.2,4.2 C5.3,4.2 5.5,2.0 5.0,0.6" transform="translate(50.80,270.10) scale(1.0) translate(0,-4.6)" fill="none" stroke="#000" stroke-width="1.000" stroke-linecap="round"/>
<text font-family="Liberation Serif" font-size="7.2" stroke="#000" stroke-width="0.35" transform="translate(57.10,272.20)">1</text>
</svg>
</body></html>
